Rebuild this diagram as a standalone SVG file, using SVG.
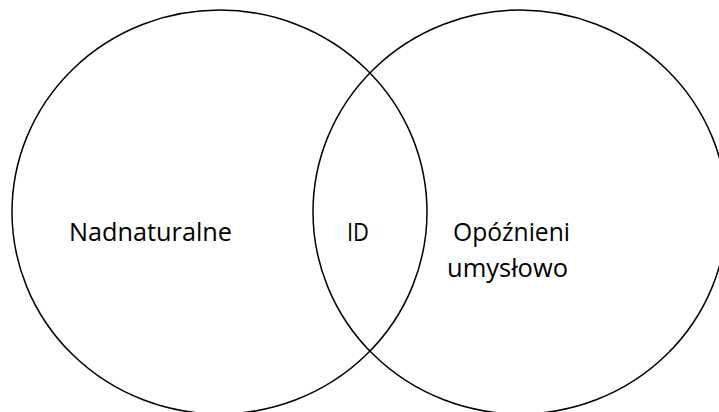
<svg xmlns="http://www.w3.org/2000/svg" width="719" height="412" viewBox="0 0 719 412">
<style>
.set{fill:none;stroke:#000;stroke-width:1.5}
.lbl{font-family:"Open Sans","Liberation Sans",Arial,sans-serif;font-size:25px;fill:#000}
</style>
<rect width="719" height="412" fill="#fff"/>
<g id="set-left">
<ellipse class="set" cx="219.5" cy="212" rx="207.5" ry="202"/>
<text class="lbl" x="69" y="241" textLength="163" lengthAdjust="spacingAndGlyphs">Nadnaturalne</text>
</g>
<g id="set-right">
<ellipse class="set" cx="520" cy="212" rx="207" ry="202"/>
<text class="lbl" x="453" y="241" textLength="117" lengthAdjust="spacingAndGlyphs">Opóźnieni</text>
<text class="lbl" x="447" y="277" textLength="121" lengthAdjust="spacingAndGlyphs">umysłowo</text>
</g>
<g id="intersection">
<text class="lbl" x="347" y="241" textLength="22" lengthAdjust="spacingAndGlyphs">ID</text>
</g>
<g id="connectors"></g>
</svg>
